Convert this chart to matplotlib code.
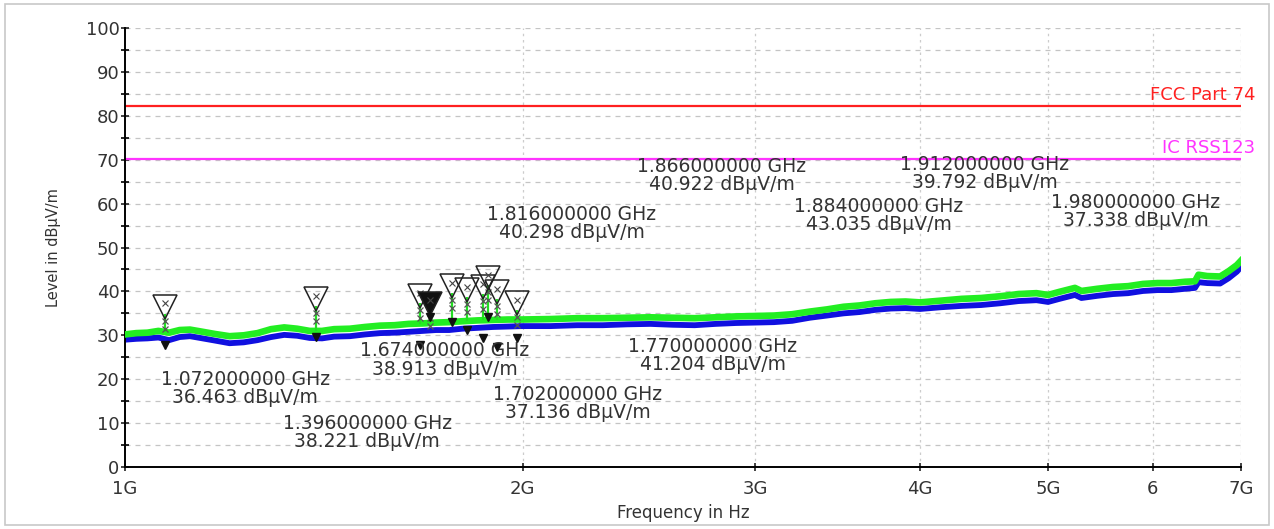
import numpy as np
import matplotlib.pyplot as plt
from matplotlib.patches import Rectangle

plt.rcParams['font.family'] = ['DejaVu Sans']

# measured traces (frequency in GHz, level in dBuV/m)
freq_ghz = [1.00, 1.02, 1.04, 1.06, 1.08, 1.10, 1.12, 1.14, 1.17, 1.20, 1.23, 1.26, 1.29,
            1.32, 1.35, 1.38, 1.41, 1.44, 1.48, 1.52, 1.56, 1.60, 1.64, 1.68, 1.72, 1.76,
            1.80, 1.85, 1.90, 1.95, 2.00, 2.10, 2.20, 2.30, 2.40, 2.50, 2.60, 2.70, 2.80,
            2.90, 3.00, 3.10, 3.20, 3.30, 3.40, 3.50, 3.60, 3.70, 3.80, 3.90, 4.00, 4.15,
            4.30, 4.45, 4.60, 4.75, 4.90, 5.00, 5.10, 5.24, 5.30, 5.45, 5.60, 5.75, 5.90,
            6.05, 6.20, 6.35, 6.46, 6.50, 6.60, 6.75, 6.85, 6.95, 7.00]
level_avg = [29.0, 29.2, 29.3, 29.5, 28.9, 29.6, 29.8, 29.4, 28.8, 28.2, 28.4, 28.9, 29.6,
             30.1, 29.9, 29.4, 29.3, 29.7, 29.8, 30.2, 30.5, 30.6, 30.8, 31.0, 31.2, 31.2,
             31.5, 31.7, 31.9, 32.0, 32.1, 32.1, 32.3, 32.3, 32.5, 32.6, 32.4, 32.3, 32.6,
             32.8, 32.9, 33.0, 33.3, 34.0, 34.5, 35.0, 35.3, 35.8, 36.1, 36.2, 36.0, 36.4,
             36.7, 36.9, 37.3, 37.8, 38.0, 37.6, 38.3, 39.2, 38.5, 39.0, 39.4, 39.6, 40.1,
             40.3, 40.3, 40.6, 40.8, 42.1, 41.9, 41.8, 43.0, 44.5, 45.6]
level_pk = [30.2, 30.5, 30.6, 31.0, 30.6, 31.2, 31.3, 30.9, 30.3, 29.8, 30.0, 30.5, 31.4,
            31.8, 31.5, 31.0, 31.0, 31.4, 31.5, 31.9, 32.2, 32.3, 32.6, 32.7, 32.9, 33.0,
            33.2, 33.4, 33.5, 33.6, 33.6, 33.7, 33.9, 33.9, 34.0, 34.1, 34.0, 33.9, 34.1,
            34.3, 34.4, 34.5, 34.8, 35.4, 35.9, 36.5, 36.8, 37.3, 37.6, 37.7, 37.5, 37.9,
            38.3, 38.5, 38.9, 39.4, 39.6, 39.2, 39.9, 40.8, 40.1, 40.6, 41.0, 41.2, 41.7,
            41.9, 41.9, 42.2, 42.3, 43.8, 43.5, 43.4, 44.6, 46.0, 47.0]

# limit lines
limit_names = ["FCC Part 74", "IC RSS123"]
limit_levels = [82.2, 70.2]
limit_colors = ["#ff2020", "#ff33ff"]

# peak markers
mk_freq = [1.072, 1.396, 1.674, 1.702, 1.770, 1.816, 1.866, 1.884, 1.912, 1.980]
mk_level = [36.463, 38.221, 38.913, 37.136, 41.204, 40.298, 40.922, 43.035, 39.792, 37.338]
mk_base = [27.8, 29.6, 27.8, 34.2, 33.0, 31.2, 29.4, 34.2, 27.3, 29.4]
# where each marker readout is written
lbl_freq = [1.233, 1.525, 1.747, 2.203, 2.787, 2.180, 2.830, 3.723, 4.478, 5.826]
lbl_level = [17.8, 7.9, 24.4, 14.5, 25.4, 55.4, 66.4, 57.3, 66.9, 58.2]

xticks = [1, 2, 3, 4, 5, 6, 7]
xtick_labels = ["1G", "2G", "3G", "4G", "5G", "6", "7G"]

fig = plt.figure(figsize=(12.74, 5.29), dpi=100)
fig.patches.append(Rectangle((0.004, 0.008), 0.992, 0.984, transform=fig.transFigure,
                             fill=False, edgecolor="#c8c8c8", lw=1.2))
ax = fig.add_axes([0.0981, 0.1172, 0.876, 0.8298])

ax.set_xscale("log")
ax.set_xlim(1, 7)
ax.set_ylim(0, 100)

# grid
for y in range(5, 101, 5):
    ax.axhline(y, color="#c4c4c4", lw=0.9, ls=(0, (4, 4)), zorder=0)
for x in xticks[1:]:
    ax.axvline(x, color="#cccccc", lw=0.9, ls=(0, (2, 3)), zorder=0)

# traces
ax.plot(freq_ghz, level_avg, color="#1010e0", lw=4.2, zorder=2, solid_joinstyle="round")
ax.plot(freq_ghz, level_pk, color="#22ee22", lw=4.8, zorder=3, solid_joinstyle="round")

# limit lines
for name, lvl, c in zip(limit_names, limit_levels, limit_colors):
    ax.axhline(lvl, color=c, lw=1.6, zorder=2)
    ax.text(1.013, lvl + 0.4, name, color=c, fontsize=13, ha="right", va="bottom",
            transform=ax.get_yaxis_transform(), clip_on=False)

# peak markers with stems
pk_at = np.interp(mk_freq, freq_ghz, level_pk)
for i, (f, lv) in enumerate(zip(mk_freq, mk_level)):
    ax.vlines(f, pk_at[i], lv - 1.6, color="#22dd22", lw=1.6, zorder=4)
    ax.plot([f, f], [lv - 3.2, lv - 5.0], ls="none", marker="x", ms=4, mew=0.9,
            color="#555555", zorder=5)
    filled = (f == 1.702)
    ax.plot(f, lv, marker="v", ms=17, mew=1.1, mec="#222222",
            mfc="#111111" if filled else "none", zorder=6)
    ax.plot(f, lv + 0.8, marker="x", ms=5, mew=0.8, color="#444444", zorder=6)
    ax.plot(f, mk_base[i], marker="v", ms=6, color="#111111", zorder=6)

# marker readouts
for f, lv, lf, ll in zip(mk_freq, mk_level, lbl_freq, lbl_level):
    ax.text(lf, ll, "%.9f GHz\n%.3f dBµV/m" % (f, lv), fontsize=13.5, color="#333333",
            ha="center", va="center", linespacing=0.95, zorder=7)

# axes styling
for s in ["top", "right"]:
    ax.spines[s].set_visible(False)
ax.spines["left"].set_linewidth(1.4)
ax.spines["bottom"].set_linewidth(1.4)
ax.set_xticks(xticks)
ax.set_xticklabels(xtick_labels)
ax.xaxis.set_minor_locator(plt.NullLocator())
ax.set_yticks(range(0, 101, 10))
ax.set_yticks(range(5, 100, 10), minor=True)
ax.tick_params(axis="both", which="major", direction="inout", length=6, width=1.2,
               labelsize=13, colors="#222222", labelcolor="#333333")
ax.tick_params(axis="y", which="minor", direction="inout", length=6, width=1.2)
ax.tick_params(axis="x", pad=6)
ax.tick_params(axis="y", pad=1)

ax.set_xlabel("Frequency in Hz", fontsize=12, color="#333333", labelpad=5)
ax.set_ylabel("Level in dBµV/m", fontsize=10.5, color="#333333", labelpad=18)

fig.savefig("out.png", dpi=100)
